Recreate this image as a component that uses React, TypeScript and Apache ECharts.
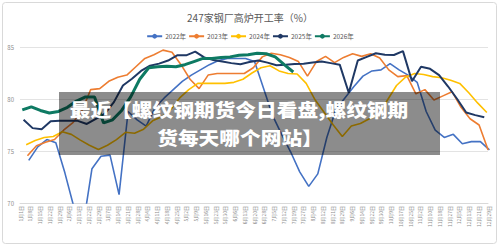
import React, { useEffect, useRef } from "react";
import * as echarts from "echarts";

const categories = ['1月1日','1月8日','1月15日','1月22日','1月29日','2月6日','2月13日','2月22日','2月29日','3月7日','3月14日','3月21日','3月28日','4月4日','4月11日','4月18日','4月25日','5月2日','5月9日','5月16日','5月23日','5月30日','6月6日','6月13日','6月20日','6月28日','7月5日','7月12日','7月19日','7月27日','8月4日','8月12日','8月21日','8月29日','9月6日','9月14日','9月22日','9月30日','10月9日','10月17日','10月25日','11月2日','11月10日','11月18日','11月27日','12月5日','12月13日','12月21日','12月29日'];

const seriesNames = ['2022年', '2023年', '2024年', '2025年', '2026年'];
// day of January of each year's first weekly report (Fridays)
const firstReportDay = [7, 6, 5, 3, 2];

const values2022 = [74.1,75.4,76.1,75.8,72.9,69.6,67.7,73.3,74.5,74.6,70.8,78.8,78.0,77.4,79.2,80.1,80.9,81.7,82.3,82.8,83.3,83.7,83.9,83.9,83.9,83.6,81.0,78.4,76.6,74.9,73.0,71.6,72.8,76.3,79.0,80.1,81.2,82.2,82.7,82.8,83.4,82.8,82.3,81.6,78.8,77.0,76.3,76.6,75.7,75.9,75.9,75.1];
const values2023 = [74.55,75.5,75.85,76.1,77.0,77.7,78.8,80.9,81.0,81.7,82.1,82.3,83.1,83.9,84.25,84.7,84.5,83.3,81.9,81.0,82.3,82.45,82.45,82.45,82.45,83.0,84.05,84.4,84.25,84.0,83.6,82.2,83.6,84.1,83.5,84.0,84.35,84.1,84.35,83.95,82.8,82.15,82.25,80.5,80.9,79.9,80.3,80.7,79.2,78.1,77.5,75.1];
const values2024 = [75.6,76.0,76.3,76.4,76.85,76.6,76.05,75.55,75.15,75.55,76.1,76.8,76.7,77.1,77.9,78.3,79.0,80.1,80.9,81.5,81.5,81.5,81.5,81.6,81.9,82.5,83.0,83.2,82.7,82.45,82.4,81.5,79.9,78.7,77.5,76.4,77.4,77.65,78.1,78.5,79.9,81.3,82.1,82.45,82.35,82.15,82.05,81.8,81.5,80.6,79.6,78.7];
const values2025 = [78.0,77.2,77.1,77.85,77.9,77.9,77.9,77.6,78.1,78.6,79.7,81.3,81.95,82.7,83.2,83.4,83.7,84.2,84.2,84.55,84.0,83.75,83.6,83.45,83.35,83.55,83.7,83.5,83.25,83.3,83.37,83.4,83.5,83.6,83.45,83.3,80.6,83.7,84.05,84.4,84.25,84.23,84.6,81.7,83.1,82.9,82.3,81.2,80.0,78.7,78.45,78.25];
const values2026 = [78.95,79.25,78.9,78.65,78.8,79.2,79.8,80.2,80.2,77.7,78.0,78.9,80.2,81.9,83.0,83.1,83.15,83.1,83.3,83.6,83.9,83.9,84.0,84.05,84.2,84.25,84.4,84.35,84.05,83.3,82.6];

const yTicks = [70, 75, 80, 85];

const overlayLines = ['最近【螺纹钢期货今日看盘,螺纹钢期', '货每天哪个网站】'];

const allValues = [values2022, values2023, values2024, values2025, values2026];
const colors = ['#4472C4', '#ED7D31', '#FFC000', '#1F3864', '#0E7A63'];
const widths = [1.6, 1.6, 1.6, 2, 3];

const FONT = '"Noto Sans CJK SC", "Noto Sans", sans-serif';

export default function App() {
  const ref = useRef<HTMLDivElement>(null);
  useEffect(() => {
    document.body.style.margin = '0';
    const chart = echarts.init(ref.current!, null, { renderer: 'svg' });
    const series = allValues.map((vals, s) => ({
      name: seriesNames[s],
      type: 'line',
      xAxisIndex: 1,
      yAxisIndex: 1,
      showSymbol: false,
      symbol: 'none',
      smooth: false,
      clip: true,
      lineStyle: { color: colors[s], width: widths[s] },
      itemStyle: { color: colors[s] },
      data: vals.map((v, k) => [firstReportDay[s] - 1 + 7 * k, v]),
    }));
    const overlayText = (text: string, x: number, y: number) => ({
      type: 'text',
      z: 101,
      x,
      y,
      scaleX: 1.12,
      scaleY: 1,
      style: {
        text,
        fill: '#ffffff',
        font: '900 18.5px ' + FONT,
        textAlign: 'center',
        textVerticalAlign: 'middle',
      },
      silent: true,
    });
    chart.setOption({
      animation: false,
      backgroundColor: '#ffffff',
      textStyle: { fontFamily: FONT },
      title: {
        text: '247家钢厂高炉开工率（%）',
        left: 'center',
        top: 7,
        textStyle: { fontSize: 10, fontWeight: 'normal', color: '#595959', fontFamily: FONT },
      },
      legend: {
        top: 28,
        left: 'center',
        itemWidth: 15,
        itemHeight: 6,
        itemGap: 2,
        textStyle: { fontSize: 6.5, color: '#595959', fontFamily: FONT, padding: [0, 0, 0, -2] },
        data: seriesNames,
      },
      grid: [
        { left: 20, right: 12, top: 47, bottom: 44 },
        { left: 21, right: 8, top: 47, bottom: 44 },
      ],
      xAxis: [
        {
          type: 'category',
          gridIndex: 0,
          data: categories,
          boundaryGap: false,
          axisLine: { show: true, lineStyle: { color: '#d9d9d9' } },
          axisTick: { show: false },
          splitLine: { show: false },
          axisLabel: { interval: 0, rotate: 90, fontSize: 5, color: '#8c8c8c', margin: 3, fontFamily: FONT },
        },
        {
          type: 'value',
          gridIndex: 1,
          min: 0,
          max: 365,
          show: false,
        },
      ],
      yAxis: [
        {
          type: 'value',
          gridIndex: 0,
          min: yTicks[0],
          max: yTicks[yTicks.length - 1],
          interval: 5,
          axisLine: { show: false },
          axisTick: { show: false },
          splitLine: { show: true, lineStyle: { color: '#e3e3e3', width: 1 } },
          axisLabel: { fontSize: 6, color: '#8c8c8c', margin: 6, fontFamily: FONT },
        },
        {
          type: 'value',
          gridIndex: 1,
          min: yTicks[0],
          max: yTicks[yTicks.length - 1],
          show: false,
          splitLine: { show: false },
        },
      ],
      series,
      graphic: [
        {
          type: 'rect',
          z: 100,
          shape: { x: 2.5, y: 2.5, width: 494, height: 241, r: 3 },
          style: { fill: 'none', stroke: '#d9d9d9', lineWidth: 1 },
          silent: true,
        },
        {
          type: 'rect',
          z: 100,
          shape: { x: 59, y: 92, width: 381, height: 63 },
          style: { fill: 'rgba(0,0,0,0.45)' },
          silent: true,
        },
        overlayText(overlayLines[0], 239, 109),
        overlayText(overlayLines[1], 240, 136.5),
      ],
    });
    return () => chart.dispose();
  }, []);
  return <div ref={ref} style={{ width: 500, height: 247, position: 'fixed', left: 0, top: 0, background: '#fff' }} />;
}
